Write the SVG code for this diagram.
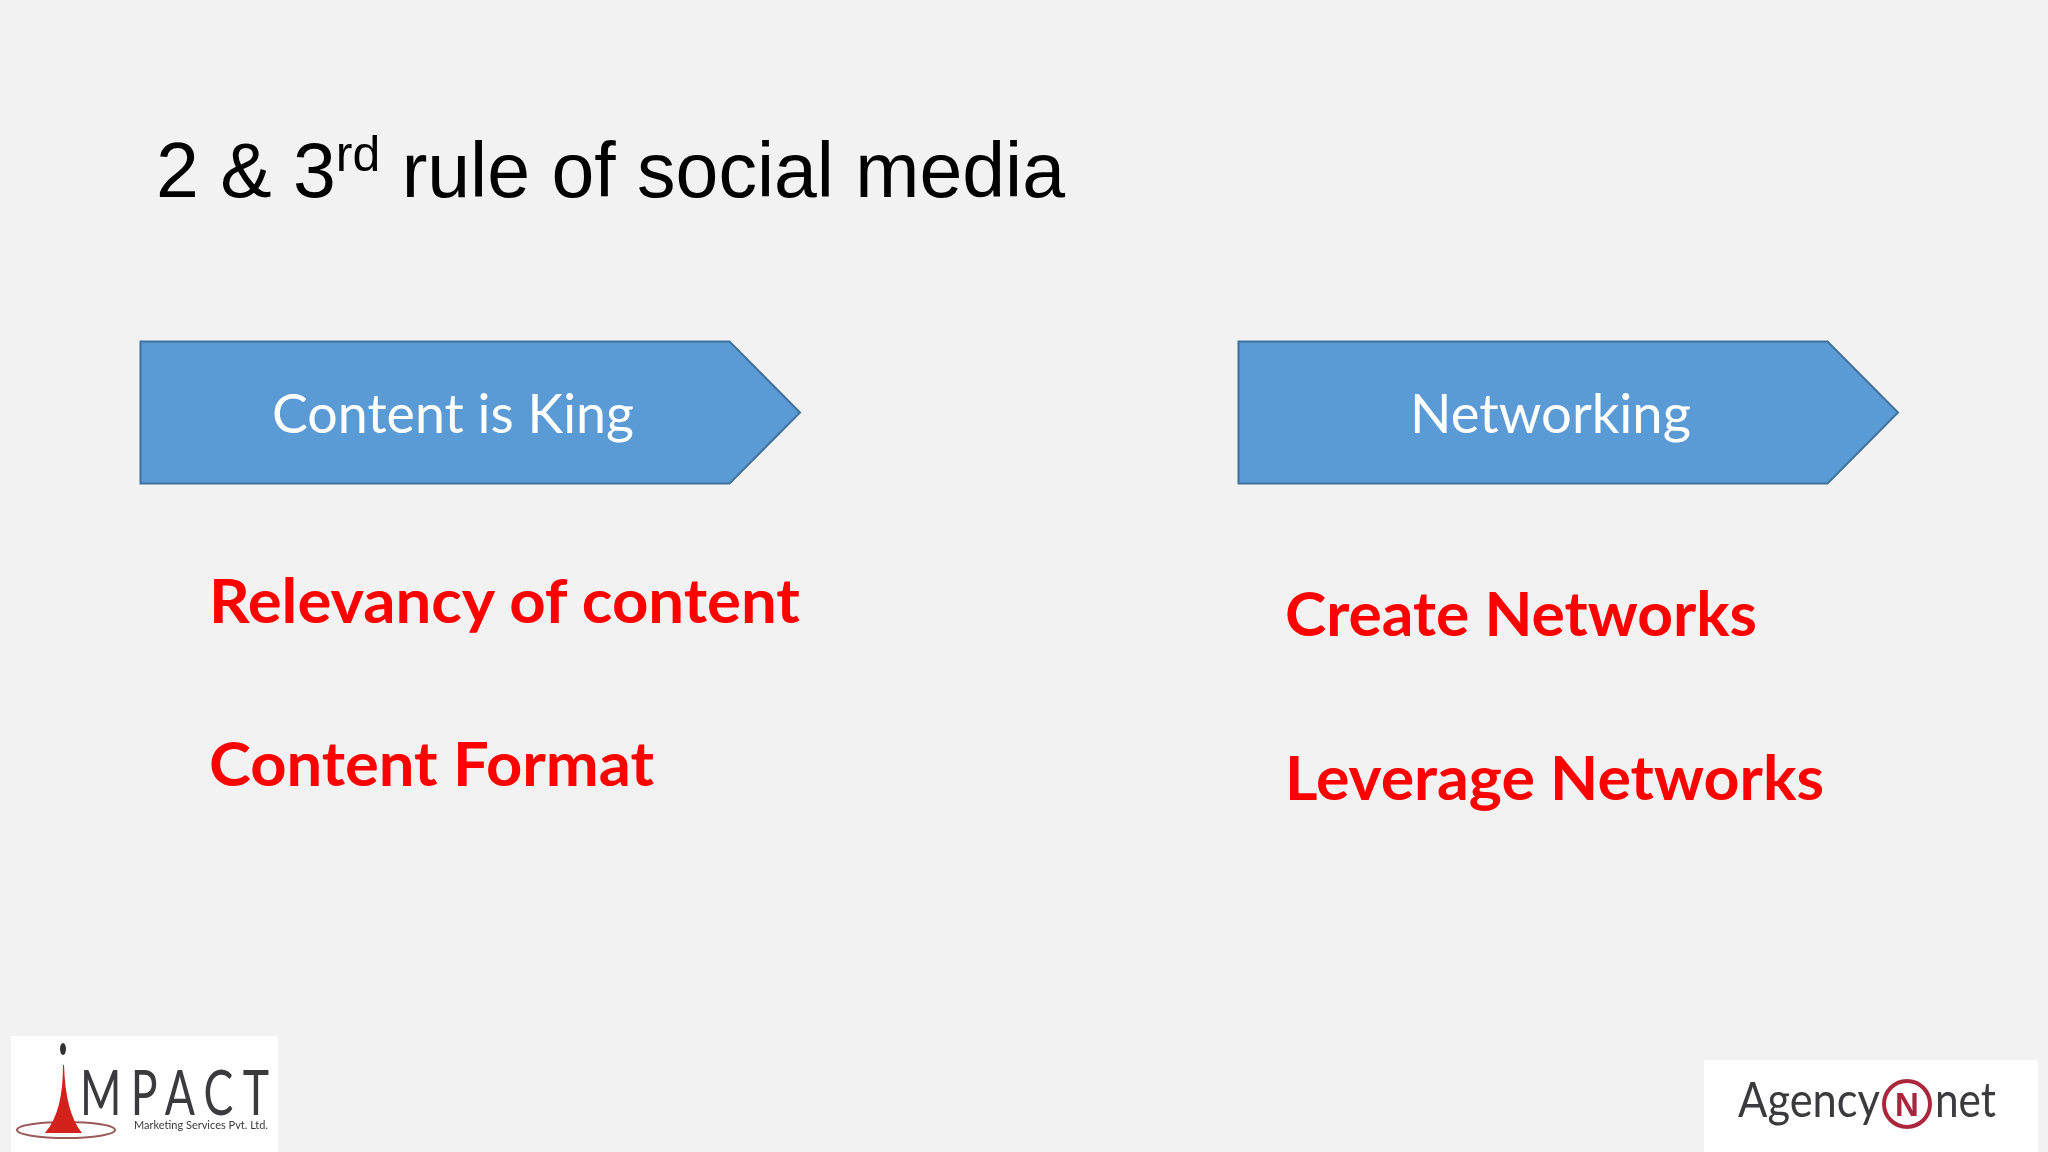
<svg xmlns="http://www.w3.org/2000/svg" width="2048" height="1152" viewBox="0 0 2048 1152">
<style>
.t{font-family:"Liberation Sans",Arial,sans-serif;fill:#000}
.a{fill:#5b9bd5;stroke:#41719c;stroke-width:2}
.l{font-family:Lato,Carlito,sans-serif;font-size:54px;fill:#fff}
.r{font-family:Lato,Carlito,sans-serif;font-size:62px;font-weight:700;fill:#f00}
.g{font-family:Lato,"Open Sans",sans-serif;fill:#3a3a3c}
.b{filter:url(#soft)}
</style>
<defs><filter id="soft" x="-5%" y="-5%" width="110%" height="110%"><feGaussianBlur stdDeviation="0.7"/></filter></defs>
<rect width="2048" height="1152" fill="#f2f2f2"/>
<text class="t" font-size="77" x="156" y="197">2 &amp; 3<tspan font-size="50" dy="-26">rd</tspan><tspan dy="26"> rule of social media</tspan></text>
<g id="node-content"><path class="a" d="M140.500 341.500H729.500L800 412.500L729.500 483.500H140.500Z"/><text class="l" x="272" y="433" textLength="362" lengthAdjust="spacingAndGlyphs">Content is King</text></g>
<g id="node-networking"><path class="a" d="M1238.500 341.500H1827.500L1898 412.500L1827.500 483.500H1238.500Z"/><text class="l" x="1410" y="433" textLength="281" lengthAdjust="spacingAndGlyphs">Networking</text></g>
<g id="connectors"/>
<g id="items-left"><text class="r" x="209" y="623" textLength="591" lengthAdjust="spacingAndGlyphs">Relevancy of content</text><text class="r" x="209" y="786" textLength="445" lengthAdjust="spacingAndGlyphs">Content Format</text></g>
<g id="items-right"><text class="r" x="1285" y="636" textLength="472" lengthAdjust="spacingAndGlyphs">Create Networks</text><text class="r" x="1285" y="800" textLength="539" lengthAdjust="spacingAndGlyphs">Leverage Networks</text></g>
<g id="logo-impact"><rect x="11" y="1036" width="267" height="116" fill="#fff"/>
<g class="b"><ellipse cx="66" cy="1130" rx="49" ry="8" fill="none" stroke="#9a5a5a" stroke-width="2"/>
<path d="M63 1065C63 1095 58 1118 45 1133H82C70 1118 65 1095 64 1065Z" fill="#d3211c"/>
<ellipse cx="63" cy="1049" rx="3" ry="6" fill="#333"/>
<text class="g" transform="translate(80 1115) scale(.72 1)" font-size="62" letter-spacing="13">MPACT</text>
<text class="g" x="134" y="1129" font-size="11" textLength="134" lengthAdjust="spacingAndGlyphs">Marketing Services Pvt. Ltd.</text></g></g>
<g id="logo-agencynet"><rect x="1704" y="1060" width="334" height="92" fill="#fff"/>
<g class="b"><text class="g" x="1738" y="1117" font-size="48" textLength="142" lengthAdjust="spacingAndGlyphs">Agency</text>
<circle cx="1907" cy="1104" r="23" fill="none" stroke="#a9283c" stroke-width="4"/>
<text x="1907" y="1116" font-family="Liberation Sans,sans-serif" font-size="33" font-weight="700" text-anchor="middle" fill="#a9283c">N</text>
<text class="g" x="1935" y="1117" font-size="48" textLength="61" lengthAdjust="spacingAndGlyphs">net</text></g></g>
</svg>
